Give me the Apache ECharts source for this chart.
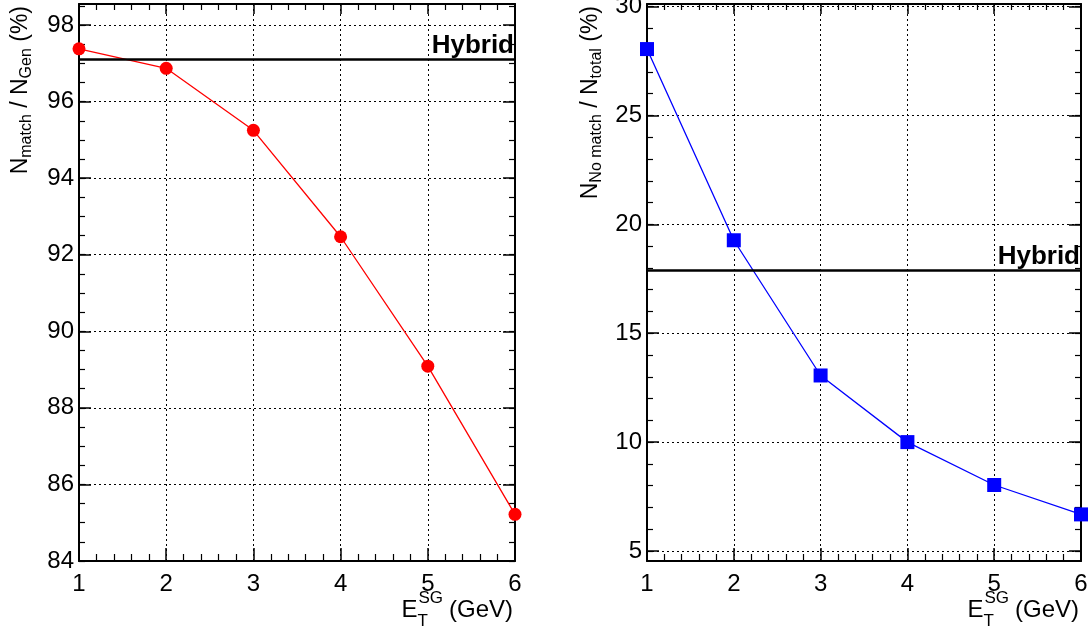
<!DOCTYPE html>
<html>
<head>
<meta charset="utf-8">
<script src="https://cdn.jsdelivr.net/npm/echarts@6.0.0/dist/echarts.min.js"></script>
<style>
html,body{margin:0;padding:0;background:#fff;}
#chart{width:1090px;height:636px;}
</style>
</head>
<body>
<div id="chart"></div>
<script>
// ---- data ----
const etValues = [1, 2, 3, 4, 5, 6];                               // E_T^SG (GeV)
const matchEfficiency = [97.38, 96.87, 95.25, 92.47, 89.09, 85.22]; // N_match / N_Gen (%)
const noMatchFraction = [28.05, 19.27, 13.06, 10.00, 8.03, 6.68];   // N_No match / N_total (%)
const hybridMatch = 97.10;
const hybridNoMatch = 17.88;
const hybridLabel = 'Hybrid';
const xRange = [1, 6];
const leftYRange = [84, 98.55];
const rightYRange = [4.54, 30.12];
const leftYTicks = [84, 86, 88, 90, 92, 94, 96, 98];
const rightYTicks = [5, 10, 15, 20, 25, 30];
const leftYMinorStep = 0.5;
const rightYMinorStep = 1;

const FONT = 'Liberation Sans';
const BLACK = '#000';

function pairs(xs, ys) { return xs.map((x, i) => [x, ys[i]]); }
function minorValues(range, step) {
  const out = [];
  const start = Math.ceil(range[0] / step - 1e-9);
  for (let k = start; k * step <= range[1] + 1e-9; k++) out.push(+(k * step).toFixed(6));
  return out;
}

const subStyle = { fontFamily: FONT, fontSize: 16, lineHeight: 14, verticalAlign: 'bottom', color: BLACK };

function xAxisPair(gridIndex) {
  const common = {
    type: 'value', gridIndex: gridIndex, min: xRange[0], max: xRange[1], interval: 1,
    axisLine: { show: true, onZero: false, lineStyle: { color: BLACK, width: 2 } },
    axisTick: { show: true, inside: true, length: 13, lineStyle: { color: BLACK, width: 1.5 } },
    minorTick: { show: true, splitNumber: 5, length: 7, lineStyle: { color: BLACK, width: 1.2 } }
  };
  return [
    Object.assign({}, common, {
      position: 'bottom',
      axisLabel: { show: true, color: BLACK, fontFamily: FONT, fontSize: 24, margin: 11 },
      splitLine: { show: true, lineStyle: { color: BLACK, width: 1, type: [2, 3] } },
      name: '{b|E}{sub|T}{sup|SG}{g|(GeV)}',
      nameLocation: 'end', nameGap: -2, nameMoveOverlap: false,
      nameTextStyle: {
        color: BLACK, fontFamily: FONT, fontSize: 24, lineHeight: 40,
        align: 'right', verticalAlign: 'top', padding: [29, 0, 0, 0],
        rich: {
          b: { fontFamily: FONT, fontSize: 24, lineHeight: 40, color: BLACK, align: 'left' },
          g: { fontFamily: FONT, fontSize: 24, lineHeight: 40, color: BLACK, align: 'left', padding: [0, 0, 0, 6] },
          sub: { fontFamily: FONT, fontSize: 17, lineHeight: 20, verticalAlign: 'bottom', color: BLACK, align: 'left', width: 1 },
          sup: { fontFamily: FONT, fontSize: 17, lineHeight: 10, verticalAlign: 'top', color: BLACK, align: 'left' }
        }
      }
    }),
    Object.assign({}, common, {
      position: 'top', axisLabel: { show: false }, splitLine: { show: false },
      axisTick: { show: true, inside: true, length: 10, lineStyle: { color: BLACK, width: 1.5 } },
      minorTick: { show: true, splitNumber: 5, length: 6, lineStyle: { color: BLACK, width: 1.2 } }
    })
  ];
}

function yAxes(gridIndex, range, majors, minorStep, name, padBottom) {
  const minors = minorValues(range, minorStep);
  const base = {
    type: 'value', gridIndex: gridIndex, min: range[0], max: range[1],
    axisLabel: { show: false }, splitLine: { show: false }, minorTick: { show: false }
  };
  const majorTick = { show: true, inside: true, length: 12, customValues: majors, lineStyle: { color: BLACK, width: 1.5 } };
  const minorTick = { show: true, inside: true, length: 6, customValues: minors, lineStyle: { color: BLACK, width: 1.2 } };
  return [
    Object.assign({}, base, {
      position: 'left',
      axisLine: { show: true, onZero: false, lineStyle: { color: BLACK, width: 2 } },
      axisTick: majorTick,
      axisLabel: { show: true, color: BLACK, fontFamily: FONT, fontSize: 24, margin: 5, customValues: majors },
      splitLine: { show: true, lineStyle: { color: BLACK, width: 1, type: [2, 3] } },
      name: name, nameLocation: 'end', nameRotate: 90, nameGap: -2, nameMoveOverlap: false,
      nameTextStyle: {
        color: BLACK, fontFamily: FONT, fontSize: 23, lineHeight: 28,
        align: 'right', verticalAlign: 'bottom', padding: [0, 0, padBottom, 0],
        rich: { sub: subStyle }
      }
    }),
    Object.assign({}, base, {
      position: 'right',
      axisLine: { show: true, onZero: false, lineStyle: { color: BLACK, width: 2 } },
      axisTick: majorTick
    }),
    Object.assign({}, base, { position: 'left', axisLine: { show: false }, axisTick: minorTick }),
    Object.assign({}, base, { position: 'right', axisLine: { show: false }, axisTick: minorTick })
  ];
}

function hybridMark(value) {
  return {
    silent: true, symbol: 'none',
    lineStyle: { color: BLACK, width: 2.5, type: 'solid' },
    label: {
      show: true, position: 'insideEndTop', formatter: hybridLabel, distance: 1,
      color: BLACK, fontFamily: FONT, fontWeight: 'bold', fontSize: 26
    },
    emphasis: { disabled: true },
    data: [{ yAxis: value }]
  };
}

const option = {
  backgroundColor: '#fff',
  animation: false,
  grid: [
    { left: 79, right: 575, top: 4, bottom: 75, outerBoundsMode: 'none', containLabel: false },
    { left: 647, right: 9, top: 4, bottom: 75, outerBoundsMode: 'none', containLabel: false }
  ],
  xAxis: [].concat(xAxisPair(0), xAxisPair(1)),
  yAxis: [].concat(
    yAxes(0, leftYRange, leftYTicks, leftYMinorStep, 'N{sub|match} / N{sub|Gen} (%)', 44),
    yAxes(1, rightYRange, rightYTicks, rightYMinorStep, 'N{sub|No match} / N{sub|total} (%)', 42)
  ),
  series: [
    {
      type: 'line', xAxisIndex: 0, yAxisIndex: 0,
      data: pairs(etValues, matchEfficiency),
      symbol: 'circle', symbolSize: 13,
      lineStyle: { color: '#ff0000', width: 1.3 },
      itemStyle: { color: '#ff0000' },
      clip: false,
      markLine: hybridMark(hybridMatch)
    },
    {
      type: 'line', xAxisIndex: 2, yAxisIndex: 4,
      data: pairs(etValues, noMatchFraction),
      symbol: 'rect', symbolSize: 14,
      lineStyle: { color: '#0000ff', width: 1.3 },
      itemStyle: { color: '#0000ff' },
      clip: false,
      markLine: hybridMark(hybridNoMatch)
    }
  ]
};

const chart = echarts.init(document.getElementById('chart'), null, { renderer: 'canvas' });
chart.setOption(option);
</script>
</body>
</html>
